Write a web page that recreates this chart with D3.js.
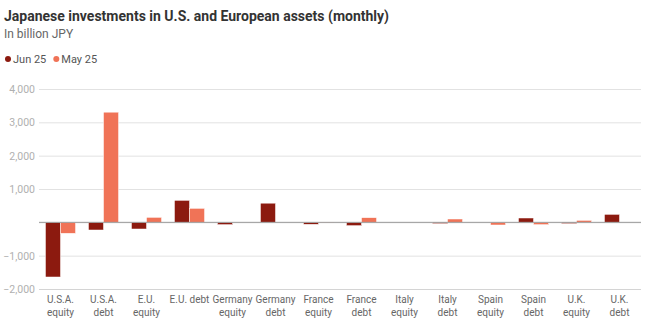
<!DOCTYPE html>
<html>
<head>
<meta charset="utf-8">
<script src="https://cdn.jsdelivr.net/npm/d3@7"></script>
<style>
  body { margin: 0; background: #fff; font-family: Roboto, sans-serif; }
</style>
</head>
<body>
<div id="chart1"></div>
<script>
// categories, two lines each ("|" = line break)
var categories = ["U.S.A.|equity", "U.S.A.|debt", "E.U.|equity", "E.U. debt", "Germany|equity", "Germany|debt",
    "France|equity", "France|debt", "Italy|equity", "Italy|debt", "Spain|equity", "Spain|debt", "U.K.|equity", "U.K.|debt"];
var jun25 = [-1640, -230, -200, 660, -70, 575, -60, -100, 0, -40, 0, 130, -40, 240];
var may25 = [-330, 3305, 150, 420, 0, 0, -10, 140, 0, 100, -80, -70, 60, 0];
var seriesNames = ["Jun 25", "May 25"];
var colors = ["#8c1a0f", "#f07357"];
var yTicks = [-2000, -1000, 0, 1000, 2000, 3000, 4000];

var svg = d3.select("#chart1").append("svg").attr("width", 655).attr("height", 332),
    mLeft = 39, mRight = 641, mTop = 89, mBottom = 289;

var x = d3.scaleBand().domain(categories).range([mLeft, mRight]).paddingInner(0.3).paddingOuter(0.15);
var xs = d3.scaleBand().domain(seriesNames).range([0, x.bandwidth()]);
var y = d3.scaleLinear().domain([-2000, 4000]).range([mBottom, mTop]);

// title
svg.append("text").attr("x", 4).attr("y", 21)
    .style("font-size", "14px").style("font-weight", "bold").style("fill", "#333")
    .text("Japanese investments in U.S. and European assets (monthly)");
svg.append("text").attr("x", 4).attr("y", 38)
    .style("font-size", "12px").style("fill", "#666")
    .text("In billion JPY");

// legend
var leg = svg.append("g").attr("transform", "translate(8,59)");
var lx = 0;
seriesNames.forEach(function(s, i) {
    leg.append("circle").attr("cx", lx).attr("cy", 0).attr("r", 3).style("fill", colors[i]);
    var t = leg.append("text").attr("x", lx + 5).attr("y", 4)
        .style("font-size", "11px").style("fill", "#555").text(s);
    lx += t.node().getComputedTextLength() + 15;
});

// gridlines + y axis labels
var yAxis = svg.append("g").attr("transform", "translate(" + mLeft + ",0)")
    .call(d3.axisLeft(y).tickValues(yTicks).tickSize(-(mRight - mLeft)).tickFormat(d3.format(",")));
yAxis.select(".domain").remove();
yAxis.selectAll(".tick line").style("stroke", function(d) { return d === -2000 ? "#d4d4d4" : "#e2e2e2"; })
    .style("stroke-width", 1);
yAxis.selectAll(".tick text").attr("x", -4)
    .style("font-family", "Roboto, sans-serif").style("font-size", "10.5px").style("fill", "#b0b0b0");
yAxis.selectAll(".tick").filter(function(d) { return d === 0; }).select("text").remove();

// bars
var groups = svg.append("g").selectAll("g")
    .data(categories.map(function(c, i) { return {cat: c, vals: [jun25[i], may25[i]]}; }))
    .enter().append("g")
    .attr("transform", function(d) { return "translate(" + x(d.cat) + ",0)"; });

groups.selectAll("rect")
    .data(function(d) { return d.vals.map(function(v, i) { return {s: seriesNames[i], v: v, i: i}; }); })
    .enter().append("rect")
    .attr("x", function(d) { return xs(d.s); })
    .attr("width", xs.bandwidth())
    .attr("y", function(d) { return y(Math.max(0, d.v)); })
    .attr("height", function(d) { return Math.abs(y(d.v) - y(0)); })
    .style("fill", function(d) { return colors[d.i]; })
    .style("stroke", "#fff").style("stroke-width", 0.5);

// zero line
svg.append("line").attr("x1", mLeft).attr("x2", mRight).attr("y1", y(0)).attr("y2", y(0))
    .style("stroke", "#999").style("stroke-width", 1);

// category labels
var lab = svg.append("g").selectAll("text")
    .data(categories)
    .enter().append("text")
    .attr("x", function(d) { return x(d) + x.bandwidth() / 2; })
    .attr("y", 303)
    .attr("text-anchor", "middle")
    .style("font-size", "10px").style("fill", "#666");
lab.selectAll("tspan")
    .data(function(d) { return d.split("|"); })
    .enter().append("tspan")
    .attr("x", function() { var p = this.parentNode.__data__; return x(p) + x.bandwidth() / 2; })
    .attr("dy", function(d, i) { return i === 0 ? 0 : 13; })
    .text(function(d) { return d; });
</script>
</body>
</html>
